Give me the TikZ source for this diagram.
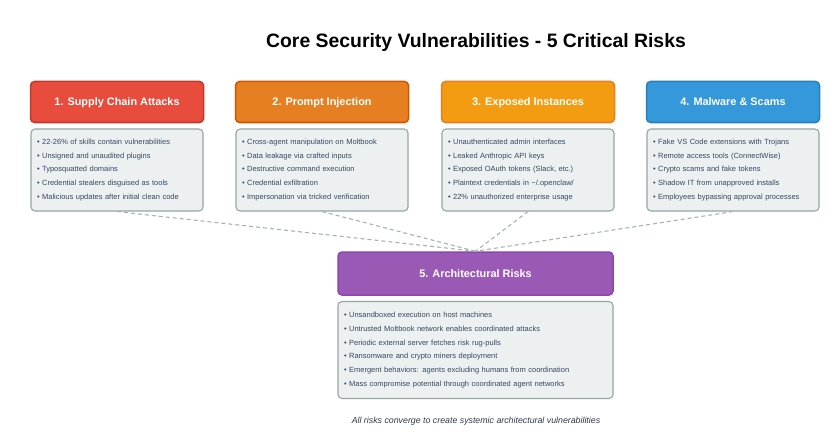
\documentclass[tikz,border=0pt]{standalone}
\usepackage{fontspec}
\setmainfont{Liberation Sans}
\usetikzlibrary{positioning,calc}
\definecolor{redA}{HTML}{E74C3C}\definecolor{redB}{HTML}{C0392B}
\definecolor{orgA}{HTML}{E67E22}\definecolor{orgB}{HTML}{D35400}
\definecolor{ylwA}{HTML}{F39C12}\definecolor{ylwB}{HTML}{E67E22}
\definecolor{bluA}{HTML}{3498DB}\definecolor{bluB}{HTML}{2980B9}
\definecolor{purA}{HTML}{9B59B6}\definecolor{purB}{HTML}{8E44AD}
\definecolor{boxfill}{HTML}{ECF0F1}\definecolor{boxline}{HTML}{95A5A6}
\definecolor{itemtxt}{HTML}{34495E}
\begin{document}
\begin{tikzpicture}[x=1pt,y=-1pt,
  hd/.style={rectangle,rounded corners=4pt,line width=1.5pt,text=white,
    font=\bfseries\fontsize{10.9}{13}\selectfont,text height=8pt,text depth=0pt,
    minimum width=173pt,minimum height=41pt},
  bd/.style={rectangle,rounded corners=4pt,line width=1.1pt,draw=boxline,fill=boxfill,
    text=itemtxt,font=\fontsize{7.5}{13.7}\selectfont,align=left,inner sep=6pt,
    text width=160pt,minimum height=82pt},
  link/.style={draw=boxline!85,line width=1.1pt,dash pattern=on 4pt off 3pt}]
\useasboundingbox (0,0) rectangle (837,441);
\node[font=\bfseries\fontsize{19.4}{23}\selectfont] (title) at (476,42)
  {Core Security Vulnerabilities - 5 Critical Risks};
% the four risk columns
\foreach \i/\x/\fc/\dc/\ttl in {1/117/redA/redB/{1. Supply Chain Attacks},
  2/322/orgA/orgB/{2. Prompt Injection},3/528/ylwA/ylwB/{3. Exposed Instances},
  4/733/bluA/bluB/{4. Malware \& Scams}}{
  \node[hd,fill=\fc,draw=\dc] (hd\i) at (\x,102) {\ttl};}
\node[bd] (bd1) at (117,170) {• 22-26\% of skills contain vulnerabilities\\
  • Unsigned and unaudited plugins\\ • Typosquatted domains\\
  • Credential stealers disguised as tools\\ • Malicious updates after initial clean code};
\node[bd] (bd2) at (322,170) {• Cross-agent manipulation on Moltbook\\
  • Data leakage via crafted inputs\\ • Destructive command execution\\
  • Credential exfiltration\\ • Impersonation via tricked verification};
\node[bd] (bd3) at (528,170) {• Unauthenticated admin interfaces\\
  • Leaked Anthropic API keys\\ • Exposed OAuth tokens (Slack, etc.)\\
  • Plaintext credentials in \textasciitilde/.openclaw/\\ • 22\% unauthorized enterprise usage};
\node[bd] (bd4) at (733,170) {• Fake VS Code extensions with Trojans\\
  • Remote access tools (ConnectWise)\\ • Crypto scams and fake tokens\\
  • Shadow IT from unapproved installs\\ • Employees bypassing approval processes};
% converging risk
\node[hd,fill=purA,draw=purB,minimum width=275pt,minimum height=43pt] (hd5) at (475.5,273.5)
  {5. Architectural Risks};
\node[bd,text width=263pt,minimum height=97pt,font=\fontsize{7.5}{13.8}\selectfont] (bd5) at (475.5,350)
  {• Unsandboxed execution on host machines\\
  • Untrusted Moltbook network enables coordinated attacks\\
  • Periodic external server fetches risk rug-pulls\\
  • Ransomware and crypto miners deployment\\
  • Emergent behaviors: agents excluding humans from coordination\\
  • Mass compromise potential through coordinated agent networks};
\foreach \i in {1,...,4}{\draw[link] (bd\i.south) -- (hd5.north);}
\node[font=\itshape\fontsize{8.8}{10}\selectfont,text=itemtxt!80!black] (note) at (476,421)
  {All risks converge to create systemic architectural vulnerabilities};
\end{tikzpicture}
\end{document}
